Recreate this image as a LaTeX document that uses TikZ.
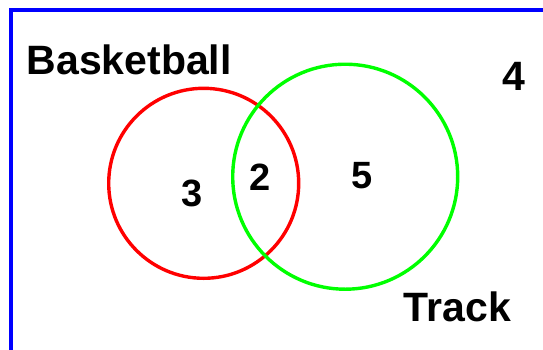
\documentclass[tikz,border=0pt]{standalone}
\usepackage{fontspec}
\setmainfont{Liberation Sans}
\begin{document}
\begin{tikzpicture}[x=1pt,y=-1pt,
  lbl/.style={anchor=base,inner sep=0pt,font=\bfseries\fontsize{41}{49}\selectfont},
  num/.style={anchor=base,inner sep=0pt,font=\bfseries\fontsize{38}{46}\selectfont},
  frameline/.style={draw={rgb,255:red,0;green,0;blue,255},line width=4pt},
  setA/.style={draw={rgb,255:red,255;green,0;blue,0},line width=3.4pt},
  setB/.style={draw={rgb,255:red,0;green,255;blue,0},line width=3.4pt}]
\useasboundingbox (0,0) rectangle (543,349);
\coordinate (fb) at (11,351);
\coordinate (fc) at (11,10.3);
\coordinate (fr) at (545,10.3);
\draw[frameline] (fb) -- (fc) -- (fr);
\draw[setA] (203.7,183.3) circle[radius=95];
\draw[setB] (345.2,176.7) circle[radius=112.5];
\node[lbl] (basket) at (129.2,74.3) {Basketball};
\node[lbl] (track) at (457.5,321) {Track};
\node[num] (n3) at (192.5,206.3) {3};
\node[num] (n2) at (260,190.5) {2};
\node[num] (n5) at (362,188.5) {5};
\node[lbl] (n4) at (513.8,90) {4};
\end{tikzpicture}
\end{document}
